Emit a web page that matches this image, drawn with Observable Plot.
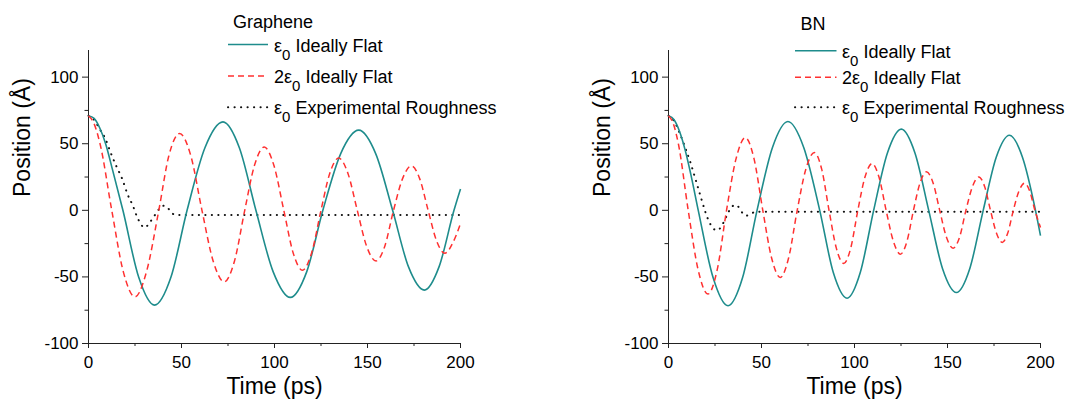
<!DOCTYPE html>
<html>
<head>
<meta charset="utf-8">
<script src="https://cdn.jsdelivr.net/npm/d3@7"></script>
<script src="https://cdn.jsdelivr.net/npm/@observablehq/plot@0.6"></script>
<style>
  html, body { margin: 0; padding: 0; background: #fff; }
  #figure { position: relative; width: 1071px; height: 405px; overflow: hidden; }
  #figure svg { position: absolute; top: 0; overflow: visible; }
</style>
</head>
<body>
<div id="figure"></div>
<script>
// Oscillation of the position (Å) versus time (ps), [time, position] pairs.

// Graphene
const grapheneFlat = [
  [0, 71], [3, 69], [6, 62], [9.2, 50], [13, 30], [18.5, 0], [27, -50.3], [35.5, -71.2],
  [44.3, -50.3], [53, 0], [62.6, 47], [72.3, 66.4], [81.1, 47], [90, 0], [99.3, -46.2],
  [108.5, -65.4], [117.3, -46.2], [126, 0], [135.6, 42.6], [145.3, 60.2], [154.4, 42.6],
  [163.5, 0], [172, -42.3], [180.6, -59.9], [188.5, -42.3], [196.5, 0], [200, 16]
];
const grapheneDouble = [
  [0, 71], [3, 65], [6.2, 50], [12.5, 0], [18.7, -46], [25, -65], [31.2, -46], [37.8, 0],
  [43.2, 41], [49, 57.7], [55, 41], [61, 0], [67, -38], [73, -53.7], [78.5, -38], [84, 0],
  [89.2, 33.6], [94.5, 47.5], [99.7, 33.6], [105, 0], [110, -31.8], [115, -45], [120, -31.8],
  [125, 0], [129.7, 27.7], [134.5, 39.2], [139.5, 27.7], [144.5, 0], [149.5, -26.9],
  [154.6, -38], [159.3, -26.9], [164, 0], [168.8, 23.6], [173.6, 33.4], [178.1, 23.6],
  [182.6, 0], [187.1, -22.8], [191.6, -32.2], [196, -24], [200, -10]
];
const grapheneRough = [
  [0, 71], [3, 68], [6, 61], [9, 54], [12, 43], [15, 33], [18, 24], [21, 12], [24, 3],
  [26, -4.5], [28, -10], [30, -13], [32, -11], [34, -7], [36, -3], [38, 1], [40.5, 3.4],
  [42.5, 2], [44.5, -1.5], [46.5, -3.4], [50, -3.5], [75, -3.5], [100, -3.5], [125, -3.5],
  [150, -3.5], [175, -3.5], [200, -3.5]
];

// BN
const bnFlat = [
  [0, 71], [3, 68], [6, 59], [9, 45], [12, 27], [16, 0], [24, -50.7], [32, -71.7],
  [39.8, -50.7], [47.6, 0], [55.9, 47.2], [64.2, 66.7], [72.7, 47.2], [81.3, 0],
  [88.6, -46.7], [96, -66], [103.1, -46.7], [110.3, 0], [117.7, 43.1], [125.2, 61],
  [132.5, 43.1], [139.9, 0], [147.3, -43.6], [154.8, -61.7], [162, -43.6], [169.2, 0],
  [176.2, 39.9], [183.3, 56.4], [190.3, 39.9], [197.3, 0], [200, -19]
];
const bnDouble = [
  [0, 71], [2.6, 65], [5.3, 50], [10.6, 0], [15.9, -44.5], [21.2, -62.9], [26.2, -44.5],
  [31.2, 0], [36.3, 38.6], [41.3, 54.6], [46, 38.6], [50.7, 0], [55.4, -35.6], [60.1, -50.4],
  [64.6, -35.6], [69.2, 0], [73.8, 30.7], [78.4, 43.4], [82.4, 30.7], [86.3, 0], [90.2, -28.2],
  [94.2, -39.9], [98, -28.2], [101.8, 0], [105.6, 24.8], [109.4, 35.1], [113.2, 24.8], [117, 0],
  [120.9, -23.3], [124.7, -32.9], [128.2, -23.3], [131.7, 0], [135.2, 20.4], [138.7, 28.9],
  [142.3, 20.4], [145.8, 0], [149.4, -20.1], [153, -28.4], [156.5, -20.1], [159.9, 0],
  [163.4, 17.7], [166.8, 25.1], [170, 17.7], [173.1, 0], [176.3, -17], [179.4, -24.1],
  [182.4, -17], [185.4, 0], [188.4, 14.4], [191.4, 20.4], [194.2, 14.4], [197, 0], [200, -12.9]
];
const bnRough = [
  [0, 71], [3, 67], [6, 58], [9, 47], [12, 35], [15, 21], [18, 7], [20, -2], [22, -9],
  [24, -13.5], [26, -15], [28, -13], [30, -8], [32, -2], [34, 2.5], [36, 4], [38, 2],
  [40, -2.5], [42, -4], [44, -3], [46, -1.5], [50, -1], [75, -1], [100, -1], [125, -1],
  [150, -1], [175, -1], [200, -1]
];

// Axes
const timeTicks = [0, 50, 100, 150, 200];
const timeMinorTicks = [25, 75, 125, 175];
const positionTicks = [-100, -50, 0, 50, 100];
const positionMinorTicks = [-75, -25, 25, 75];

// Legend text
const panelTitles = ["Graphene", "BN"];
const legendPrefix = ["", "2", ""];
const legendSuffix = ["Ideally Flat", "Ideally Flat", "Experimental Roughness"];

const FONT = "'Liberation Sans', Arial, Helvetica, sans-serif";
const TEAL = "#1e8c8c";
const RED = "#ff3030";
const DARK = "#111";
const seriesStyles = [
  { stroke: TEAL, strokeWidth: 1.6, dash: null, cap: "butt" },
  { stroke: RED, strokeWidth: 1.5, dash: "6,4", cap: "butt" },
  { stroke: DARK, strokeWidth: 2, dash: "0.2,6.3", cap: "round" }
];

function panel({ flat, double, rough, width, marginRight }) {
  const xy = { x: d => d[0], y: d => d[1], curve: "monotone-x" };
  const style = i => ({
    stroke: seriesStyles[i].stroke,
    strokeWidth: seriesStyles[i].strokeWidth,
    strokeDasharray: seriesStyles[i].dash,
    strokeLinecap: seriesStyles[i].cap
  });
  return Plot.plot({
    width,
    height: 405,
    marginLeft: 88,
    marginRight,
    marginTop: 50,
    marginBottom: 62,
    style: { fontFamily: FONT, fontSize: "17px", color: "#222", background: "transparent", overflow: "visible" },
    x: { domain: [0, 200] },
    y: { domain: [-100, 120] },
    marks: [
      Plot.axisX(timeTicks, { tickSize: 5, tickPadding: 7, tickFormat: d => String(d), label: null, fill: "#000" }),
      Plot.axisX(timeMinorTicks, { tickSize: 3, tickFormat: () => "", label: null }),
      Plot.axisY(positionTicks, { tickSize: 6, tickPadding: 4, tickFormat: d => String(d), label: null, fill: "#000" }),
      Plot.axisY(positionMinorTicks, { tickSize: 3.5, tickFormat: () => "", label: null }),
      Plot.ruleX([0], { stroke: "#222" }),
      Plot.ruleY([-100], { stroke: "#222" }),
      Plot.line(rough, { ...xy, ...style(2) }),
      Plot.line(flat, { ...xy, ...style(0) }),
      Plot.line(double, { ...xy, ...style(1) }),
      Plot.text(["Time (ps)"], { text: d => d, frameAnchor: "bottom", dy: 50, fontSize: 23, fill: "#000" }),
      Plot.text(["Position (Å)"], { text: d => d, frameAnchor: "left", dx: -66, rotate: -90, fontSize: 23, fill: "#000" })
    ]
  });
}

function addLegend(svg, { title, titleX, titleY, swatchX0, swatchX1, textX, rowY }) {
  const g = d3.select(svg).append("g")
    .attr("font-family", FONT)
    .attr("font-size", 18)
    .attr("text-anchor", "start")
    .attr("fill", "#000");
  g.append("text").attr("x", titleX).attr("y", titleY).text(title);
  rowY.forEach((y, i) => {
    const s = seriesStyles[i];
    g.append("line")
      .attr("x1", swatchX0).attr("x2", swatchX1)
      .attr("y1", y).attr("y2", y)
      .attr("stroke", s.stroke)
      .attr("stroke-width", s.strokeWidth)
      .attr("stroke-linecap", s.cap)
      .attr("stroke-dasharray", s.dash);
    const t = g.append("text").attr("x", textX).attr("y", y + 7);
    t.append("tspan").text(legendPrefix[i] + "ε");
    t.append("tspan").attr("font-size", 15).attr("dy", 8).text("0");
    t.append("tspan").attr("dy", -8).text(" " + legendSuffix[i]);
  });
}

const fig = document.getElementById("figure");

const left = panel({ flat: grapheneFlat, double: grapheneDouble, rough: grapheneRough, width: 580, marginRight: 120 });
left.style.left = "0px";
addLegend(left, { title: panelTitles[0], titleX: 233, titleY: 28, swatchX0: 228, swatchX1: 268, textX: 274, rowY: [44.5, 76, 107.3] });
fig.appendChild(left);

const right = panel({ flat: bnFlat, double: bnDouble, rough: bnRough, width: 491, marginRight: 31 });
right.style.left = "580px";
addLegend(right, { title: panelTitles[1], titleX: 220.5, titleY: 29.5, swatchX0: 215, swatchX1: 256.5, textX: 262, rowY: [50.7, 77.3, 107.3] });
fig.appendChild(right);
</script>
</body>
</html>
